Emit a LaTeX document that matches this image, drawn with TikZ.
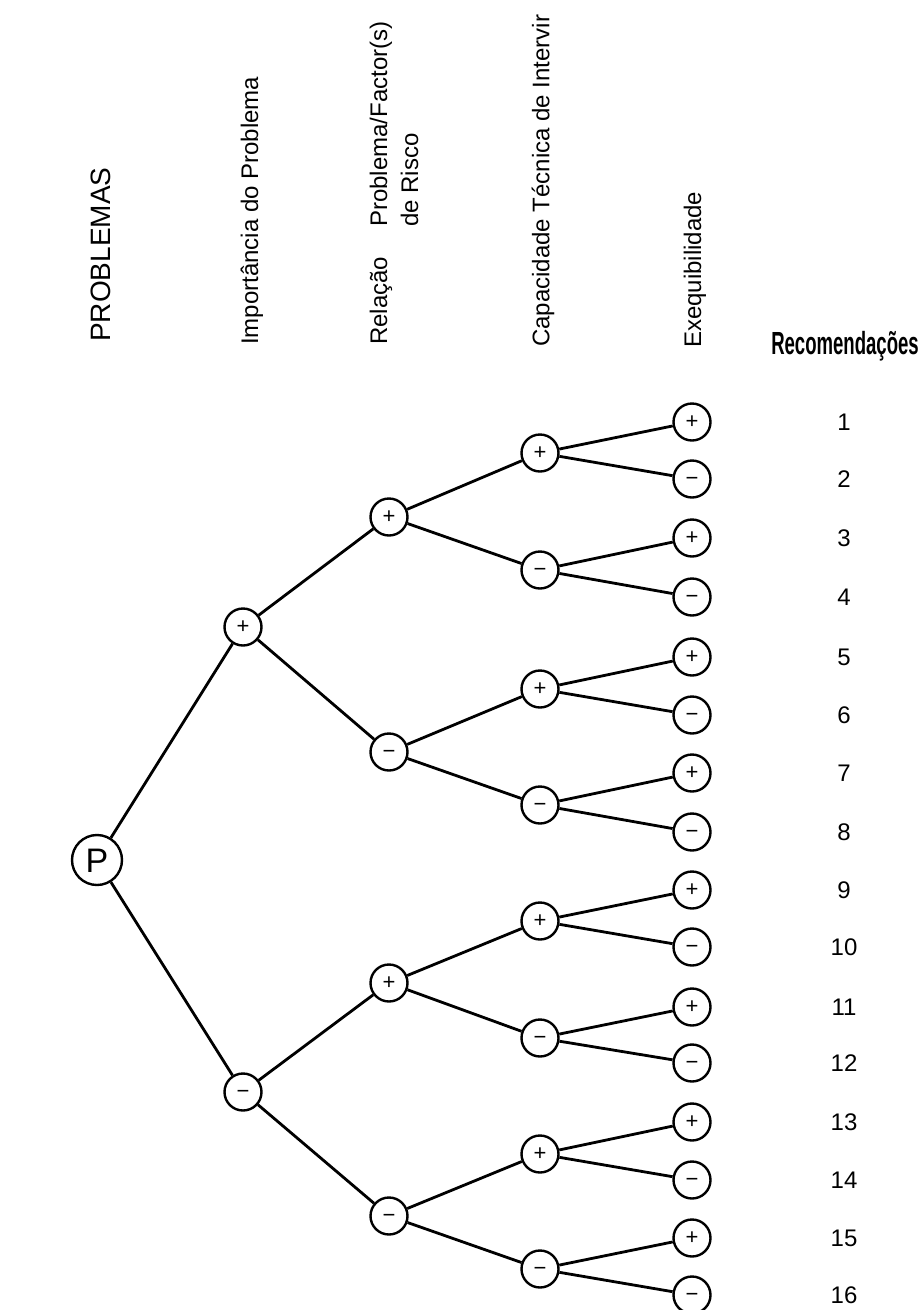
\documentclass[tikz,border=0pt]{standalone}
\usepackage{fontspec}
\setmainfont{Liberation Sans}
\newfontfamily\recfont[FakeStretch=0.58]{Liberation Sans}

\tikzset{
    header/.style={rotate=90, anchor=west, inner sep=0pt, font=\fontsize{24}{31}\selectfont},
}

\begin{document}
\begin{tikzpicture}[x=1pt, y=-1pt]
        \useasboundingbox (0,0) rectangle (924,1310);

        % column headings
        \node[header, font=\fontsize{28}{32}\selectfont] (hprob) at (101,342) {PROBLEMAS};
        \node[header] (himp) at (252,345) {Importância do Problema};
        \node[header, align=left] (hrel) at (394,345) {Relação\hspace{30pt}Problema/Factor(s)\\\hphantom{Relação\hspace{30pt}}de Risco};
        \node[header] (hcap) at (543,347) {Capacidade Técnica de Intervir};
        \node[header] (hexe) at (695,348) {Exequibilidade};
        \node[inner sep=0pt, font=\recfont\bfseries\fontsize{32}{36}\selectfont] (hrec) at (845,346) {Recomendações};

        \begin{scope}[every node/.style={circle,draw,line width=2.4pt,minimum size=37pt,inner sep=0pt,text height=12.5pt,text depth=0pt,font=\fontsize{22}{22}\selectfont}]
            \node[minimum size=50pt, text height=24.5pt, font=\fontsize{34}{34}\selectfont] (p) at (97,860) {P};

            \node (a1) at (243,627) {+};
            \node (a2) at (243,1092) {−};

            \node (b1) at (389,517) {+};
            \node (b2) at (389,752) {−};
            \node (b3) at (389,983) {+};
            \node (b4) at (389,1216) {−};

            \node (c1) at (540,453) {+};
            \node (c2) at (540,570) {−};
            \node (c3) at (540,689) {+};
            \node (c4) at (540,805) {−};
            \node (c5) at (540,921) {+};
            \node (c6) at (540,1038) {−};
            \node (c7) at (540,1154) {+};
            \node (c8) at (540,1269) {−};

            \node (d1) at (692,422) {+};
            \node (d2) at (692,479) {−};
            \node (d3) at (692,538) {+};
            \node (d4) at (692,597) {−};
            \node (d5) at (692,657) {+};
            \node (d6) at (692,715) {−};
            \node (d7) at (692,773) {+};
            \node (d8) at (692,832) {−};
            \node (d9) at (692,890) {+};
            \node (d10) at (692,947) {−};
            \node (d11) at (692,1007) {+};
            \node (d12) at (692,1063) {−};
            \node (d13) at (692,1122) {+};
            \node (d14) at (692,1180) {−};
            \node (d15) at (692,1238) {+};
            \node (d16) at (692,1295) {−};
        \end{scope}

        % recommendation numbers
        \begin{scope}[every node/.style={inner sep=0pt,font=\fontsize{24}{24}\selectfont}]
            \node (r1) at (844,422) {1};
            \node (r2) at (844,479) {2};
            \node (r3) at (844,538) {3};
            \node (r4) at (844,597) {4};
            \node (r5) at (844,657) {5};
            \node (r6) at (844,715) {6};
            \node (r7) at (844,773) {7};
            \node (r8) at (844,832) {8};
            \node (r9) at (844,890) {9};
            \node (r10) at (844,947) {10};
            \node (r11) at (844,1007) {11};
            \node (r12) at (844,1063) {12};
            \node (r13) at (844,1122) {13};
            \node (r14) at (844,1180) {14};
            \node (r15) at (844,1238) {15};
            \node (r16) at (844,1295) {16};
        \end{scope}

        \begin{scope}[every edge/.style={draw=black,line width=2.8pt}]
            \path [-] (p) edge (a1);
            \path [-] (p) edge (a2);

            \path [-] (a1) edge (b1);
            \path [-] (a1) edge (b2);
            \path [-] (a2) edge (b3);
            \path [-] (a2) edge (b4);

            \path [-] (b1) edge (c1);
            \path [-] (b1) edge (c2);
            \path [-] (b2) edge (c3);
            \path [-] (b2) edge (c4);
            \path [-] (b3) edge (c5);
            \path [-] (b3) edge (c6);
            \path [-] (b4) edge (c7);
            \path [-] (b4) edge (c8);

            \path [-] (c1) edge (d1);
            \path [-] (c1) edge (d2);
            \path [-] (c2) edge (d3);
            \path [-] (c2) edge (d4);
            \path [-] (c3) edge (d5);
            \path [-] (c3) edge (d6);
            \path [-] (c4) edge (d7);
            \path [-] (c4) edge (d8);
            \path [-] (c5) edge (d9);
            \path [-] (c5) edge (d10);
            \path [-] (c6) edge (d11);
            \path [-] (c6) edge (d12);
            \path [-] (c7) edge (d13);
            \path [-] (c7) edge (d14);
            \path [-] (c8) edge (d15);
            \path [-] (c8) edge (d16);
        \end{scope}
    \end{tikzpicture}
\end{document}
